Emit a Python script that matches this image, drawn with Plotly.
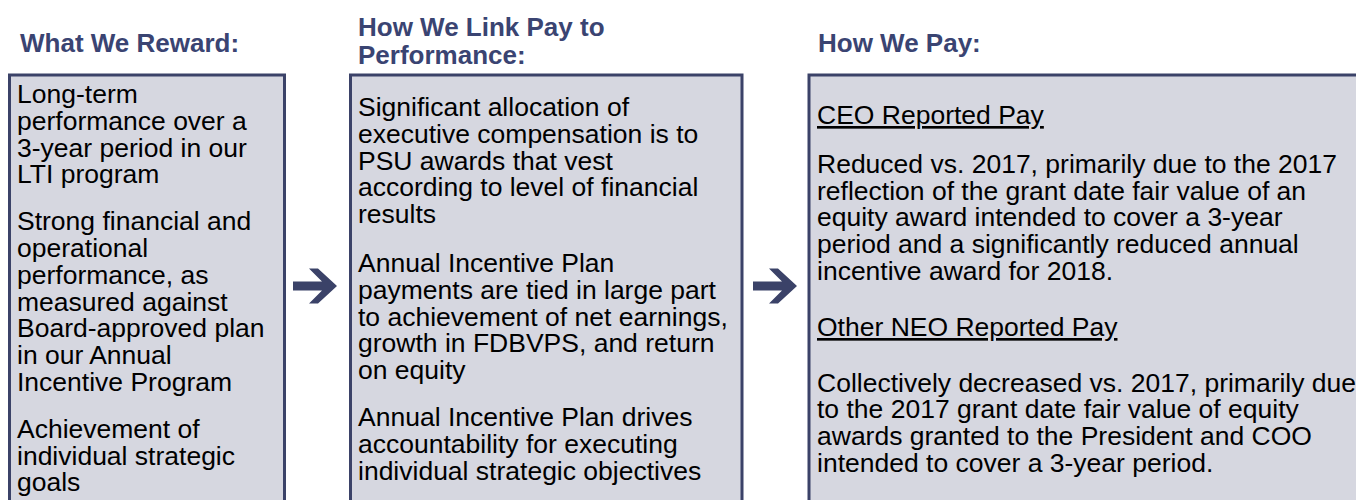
import plotly.graph_objects as go

# ---- content ----
headers = [
    ["What We Reward:"],
    ["How We Link Pay to", "Performance:"],
    ["How We Pay:"],
]

box1_paragraphs = [
    ["Long-term", "performance over a", "3-year period in our", "LTI program"],
    ["Strong financial and", "operational", "performance, as", "measured against",
     "Board-approved plan", "in our Annual", "Incentive Program"],
    ["Achievement of", "individual strategic", "goals"],
]
box2_paragraphs = [
    ["Significant allocation of", "executive compensation is to", "PSU awards that vest",
     "according to level of financial", "results"],
    ["Annual Incentive Plan", "payments are tied in large part", "to achievement of net earnings,",
     "growth in FDBVPS, and return", "on equity"],
    ["Annual Incentive Plan drives", "accountability for executing",
     "individual strategic objectives"],
]
box3_paragraphs = [
    ["<u>CEO Reported Pay</u>"],
    ["Reduced vs. 2017, primarily due to the 2017", "reflection of the grant date fair value of an",
     "equity award intended to cover a 3-year", "period and a significantly reduced annual",
     "incentive award for 2018."],
    ["<u>Other NEO Reported Pay</u>"],
    ["Collectively decreased vs. 2017, primarily due", "to the 2017 grant date fair value of equity",
     "awards granted to the President and COO", "intended to cover a 3-year period."],
]

# ---- layout / style ----
W, H = 1364, 500
OFF = 8  # page body margin offset
NAVY = "#3b4268"
HEAD = "#3a4472"
FILL = "#d6d7e0"
FONT = "Liberation Sans, Arial, sans-serif"
BODY_SIZE = 26.5
HEAD_SIZE = 26
LS = 26.8

boxes = [
    dict(x0=9.5, x1=284.5, tx=15, head_x=18, head_y=[43], first=94, gaps=[0, 20, 20],
         paras=box1_paragraphs),
    dict(x0=350.5, x1=742, tx=356, head_x=356, head_y=[27, 55], first=107, gaps=[0, 22, 20],
         paras=box2_paragraphs),
    dict(x0=809, x1=1380, tx=815, head_x=816, head_y=[43], first=115, gaps=[0, 22, 29, 29],
         paras=box3_paragraphs),
]
BOX_TOP = 75
arrows = [(293, 286), (753, 286)]

fig = go.Figure()
shapes = []
annotations = []

for b, hdr in zip(boxes, headers):
    shapes.append(dict(type="rect", xref="x", yref="y", x0=b["x0"], x1=b["x1"],
                       y0=BOX_TOP, y1=H + 30, fillcolor=FILL,
                       line=dict(color=NAVY, width=3), layer="below"))
    for hy, htxt in zip(b["head_y"], hdr):
        annotations.append(dict(x=b["head_x"], y=hy, xref="x", yref="y", text="<b>%s</b>" % htxt,
                                showarrow=False, xanchor="left", yanchor="middle",
                                font=dict(family=FONT, size=HEAD_SIZE, color=HEAD)))
    y = b["first"]
    for pi, para in enumerate(b["paras"]):
        if pi > 0:
            y += LS + b["gaps"][pi]
        for li, line in enumerate(para):
            if li > 0:
                y += LS
            annotations.append(dict(x=b["tx"], y=y, xref="x", yref="y", text=line,
                                    showarrow=False, xanchor="left", yanchor="middle",
                                    font=dict(family=FONT, size=BODY_SIZE, color="#000000")))

# arrow glyph outline (relative units, px)
arrow_pts = [(0, -4.5), (29, -4.5), (16, -17.5), (25, -17.5), (44, 0), (25, 17.5),
             (16, 17.5), (29, 4.5), (0, 4.5)]
for ax0, ayc in arrows:
    path = "M " + " L ".join("%g,%g" % (ax0 + px, ayc + py) for px, py in arrow_pts) + " Z"
    shapes.append(dict(type="path", xref="x", yref="y", path=path, fillcolor=NAVY,
                       line=dict(color=NAVY, width=0)))

fig.update_layout(
    width=W, height=H,
    margin=dict(l=0, r=0, t=0, b=0),
    paper_bgcolor="white", plot_bgcolor="white",
    xaxis=dict(range=[OFF, W + OFF], visible=False, fixedrange=True),
    yaxis=dict(range=[H + OFF, OFF], visible=False, fixedrange=True),
    shapes=shapes, annotations=annotations, showlegend=False,
)

fig.write_html("out.html")
